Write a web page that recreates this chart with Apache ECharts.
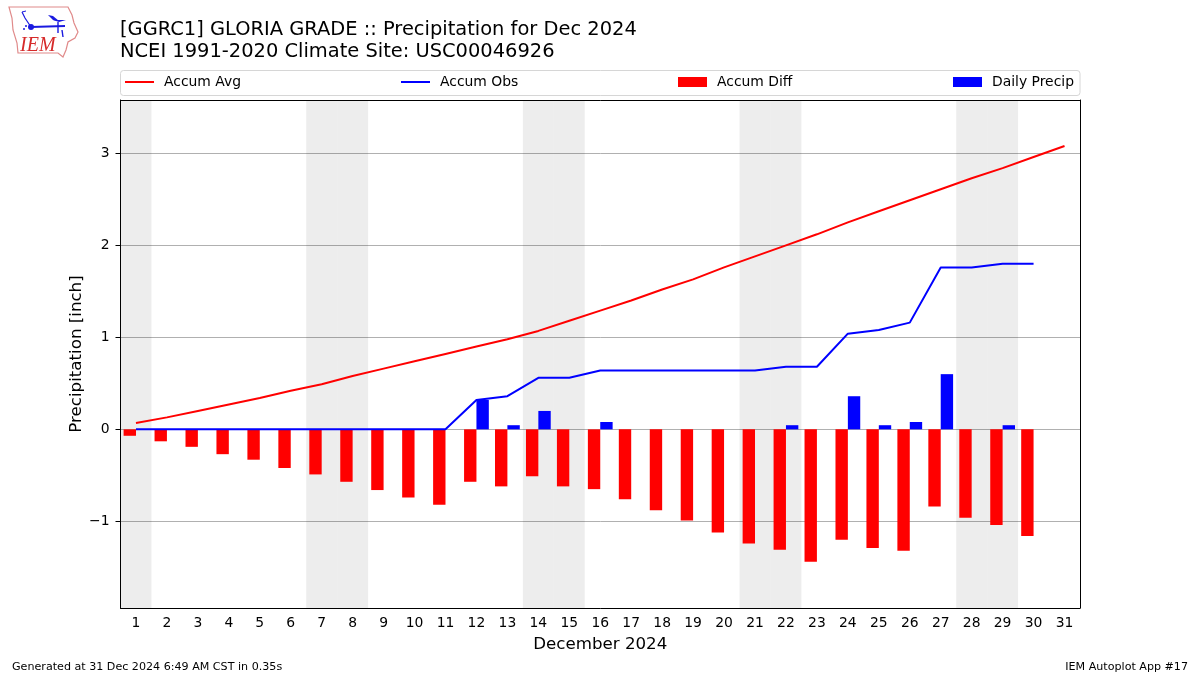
<!DOCTYPE html>
<html>
<head>
<meta charset="utf-8">
<style>html,body{margin:0;padding:0;background:#fff}#c{width:1200px;height:675px}</style>
<script src="https://cdn.jsdelivr.net/npm/echarts@6/dist/echarts.min.js"></script>
</head>
<body>
<div id="c"></div>
<script>
const days = ['1','2','3','4','5','6','7','8','9','10','11','12','13','14','15','16','17','18','19','20','21','22','23','24','25','26','27','28','29','30','31'];
const accumAvg = [0.07,0.13,0.20,0.27,0.34,0.42,0.49,0.58,0.66,0.74,0.82,0.90,0.98,1.07,1.18,1.29,1.40,1.52,1.63,1.76,1.88,2.00,2.12,2.25,2.37,2.49,2.61,2.73,2.84,2.96,3.08];
const accumObs = [0,0,0,0,0,0,0,0,0,0,0,0.32,0.36,0.56,0.56,0.64,0.64,0.64,0.64,0.64,0.64,0.68,0.68,1.04,1.08,1.16,1.76,1.76,1.80,1.80,null];
const accumDiff = [-0.07,-0.13,-0.19,-0.27,-0.33,-0.42,-0.49,-0.57,-0.66,-0.74,-0.82,-0.57,-0.62,-0.51,-0.62,-0.65,-0.76,-0.88,-0.99,-1.12,-1.24,-1.31,-1.44,-1.20,-1.29,-1.32,-0.84,-0.96,-1.04,-1.16,null];
const dailyPrecip = [null,null,null,null,null,null,null,null,null,null,null,0.32,0.045,0.20,null,0.08,null,null,null,null,null,0.045,null,0.36,0.045,0.08,0.60,null,0.045,null,null];
const weekendDays = ['1','7','8','14','15','21','22','28','29'];
const yTicks = [-1,0,1,2,3];
const yMin = -1.942, yMax = 3.58;
const titleLines = '[GGRC1] GLORIA GRADE :: Precipitation for Dec 2024\nNCEI 1991-2020 Climate Site: USC00046926';
const FONT = '"DejaVu Sans"';

const chart = echarts.init(document.getElementById('c'), null, {renderer:'canvas'});
const mkLegend = (name, left, isBar) => ({
  data:[{name, icon:'rect'}],
  left, top:75, padding:0, itemWidth:29, itemHeight:isBar?10:2, selectedMode:false,
  textStyle:{fontFamily:FONT,fontSize:13.9,color:'#000',padding:[0,0,0,5]}
});
const outline = [[9,7],[68,7],[72,15],[74,23],[78,32],[75,38],[68,42],[66,50],[63,57],[58,53],[18,53],[17,43],[13,30],[12,18]];
chart.setOption({
  animation:false,
  backgroundColor:'#fff',
  title:{text:titleLines,left:120,top:19,padding:0,textStyle:{fontFamily:FONT,fontSize:19.44,fontWeight:'normal',color:'#000',lineHeight:22}},
  legend:[mkLegend('Accum Avg',125,false),mkLegend('Accum Obs',401,false),mkLegend('Accum Diff',678,true),mkLegend('Daily Precip',953,true)],
  grid:{left:120.5,top:100,width:959.5,height:508,show:false},
  xAxis:[{type:'category',data:days,
    name:'December 2024',nameLocation:'middle',nameGap:28,nameTextStyle:{fontFamily:FONT,fontSize:16.67,color:'#000'},
    axisLine:{onZero:false,lineStyle:{color:'#000',width:1}},
    axisTick:{alignWithLabel:true,length:5,lineStyle:{color:'#000'}},
    axisLabel:{interval:0,fontFamily:FONT,fontSize:13.9,color:'#000',margin:8},
    splitLine:{show:false}},
    {type:'category',data:days,position:'top',axisLine:{onZero:false,lineStyle:{color:'#000',width:1}},axisTick:{show:false},axisLabel:{show:false},splitLine:{show:false}}],
  yAxis:[{type:'value',min:yMin,max:yMax,
    name:'Precipitation [inch]',nameLocation:'middle',nameGap:35,nameMoveOverlap:false,nameTextStyle:{fontFamily:FONT,fontSize:16.67,color:'#000'},
    axisLine:{show:true,lineStyle:{color:'#000',width:1}},
    axisTick:{show:true,length:5,lineStyle:{color:'#000'},customValues:yTicks},
    axisLabel:{fontFamily:FONT,fontSize:13.9,color:'#000',margin:11,customValues:yTicks,
      formatter:v=>String(v).replace('-','\u2212')},
    splitLine:{show:true,lineStyle:{color:'#b0b0b0',width:1}}},
    {type:'value',min:yMin,max:yMax,position:'right',axisLine:{show:true,lineStyle:{color:'#000',width:1}},axisTick:{show:false},axisLabel:{show:false},splitLine:{show:false}}],
  series:[
    {name:'Weekend',type:'custom',data:weekendDays.map(d=>[d]),silent:true,z:0,
      encode:{x:0},
      renderItem:(p,api)=>{
        const c=api.coord([api.value(0),0]), w=api.size([1,0])[0];
        return {type:'rect',shape:{x:c[0]-w/2,y:p.coordSys.y,width:w,height:p.coordSys.height},
          style:{fill:'rgba(0,0,0,0.07)'}};
      }},
    {name:'Accum Diff',type:'bar',data:accumDiff,barWidth:'40%',barGap:0,itemStyle:{color:'#ff0000'},z:2},
    {name:'Daily Precip',type:'bar',data:dailyPrecip,barWidth:'40%',barGap:0,itemStyle:{color:'#0000ff'},z:2},
    {name:'Accum Avg',type:'line',data:accumAvg,symbol:'none',lineStyle:{color:'#ff0000',width:2},itemStyle:{color:'#ff0000'},z:3},
    {name:'Accum Obs',type:'line',data:accumObs,symbol:'none',lineStyle:{color:'#0000ff',width:2},itemStyle:{color:'#0000ff'},z:3}
  ],
  graphic:[
    {type:'rect',silent:true,z:-1,shape:{x:120.5,y:70.5,width:959.5,height:25,r:3},style:{fill:'#fff',stroke:'#d6d6d6',lineWidth:1}},
    {type:'text',left:12,top:662,style:{text:'Generated at 31 Dec 2024 6:49 AM CST in 0.35s',fontFamily:FONT,fontSize:11.11,fill:'#000'}},
    {type:'text',right:12,top:662,style:{text:'IEM Autoplot App #17',fontFamily:FONT,fontSize:11.11,fill:'#000'}},
    {type:'polygon',silent:true,shape:{points:outline},style:{fill:'#fff',stroke:'#e08a8a',lineWidth:1.2}},
    {type:'polyline',silent:true,shape:{points:[[31,27],[65,26]]},style:{stroke:'#1a1ae0',fill:'none',lineWidth:2}},
    {type:'polyline',silent:true,shape:{points:[[31,27],[25,18],[22,12]]},style:{stroke:'#1a1ae0',fill:'none',lineWidth:1.2}},
    {type:'polyline',silent:true,shape:{points:[[22,12],[26,11]]},style:{stroke:'#1a1ae0',fill:'none',lineWidth:1}},
    {type:'polyline',silent:true,shape:{points:[[58,22],[58,33]]},style:{stroke:'#1a1ae0',fill:'none',lineWidth:1.4}},
    {type:'polyline',silent:true,shape:{points:[[62,30],[63,37]]},style:{stroke:'#1a1ae0',fill:'none',lineWidth:1.4}},
    {type:'polygon',silent:true,shape:{points:[[48,15],[53,16],[59,21],[53,20]]},style:{fill:'#1a1ae0'}},
    {type:'polygon',silent:true,shape:{points:[[53,20],[66,20],[59,22]]},style:{fill:'#1a1ae0'}},
    {type:'circle',silent:true,shape:{cx:31,cy:27,r:3},style:{fill:'#1a1ae0'}},
    {type:'circle',silent:true,shape:{cx:24,cy:29,r:1},style:{fill:'#1a1ae0'}},
    {type:'circle',silent:true,shape:{cx:26,cy:26,r:1},style:{fill:'#1a1ae0'}},
    {type:'text',silent:true,left:20,top:36,style:{text:'IEM',fontFamily:'"Liberation Serif"',fontStyle:'italic',fontSize:20,fill:'#d62a2a'}}
  ]
});
</script>
</body>
</html>
